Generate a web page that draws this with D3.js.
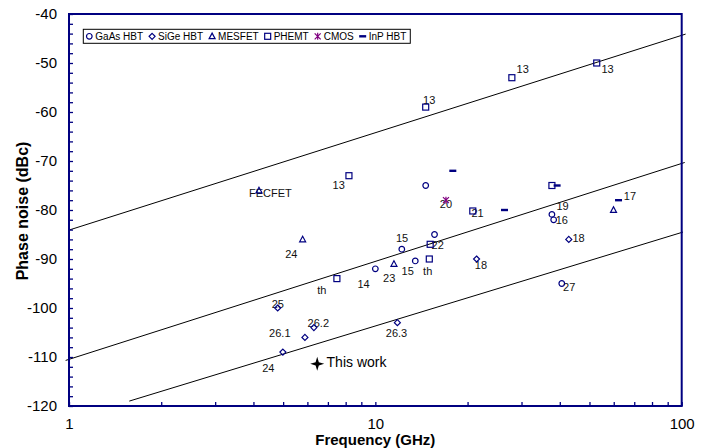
<!doctype html>
<html lang="en">
<head>
<meta charset="utf-8">
<script src="https://d3js.org/d3.v7.min.js"></script>
<style>
  body { margin: 0; background: #fff; }
  svg text { font-family: "Liberation Sans", Arial, sans-serif; }
</style>
</head>
<body>
<div id="chart"></div>
<script>
// data: [frequency GHz, phase noise dBc]
var gaasHBT = [[14.6,-75],[15.6,-85],[12.2,-88],[13.5,-90.4],[10.0,-92],[37.7,-80.9],[38.2,-82],[40.6,-95]];
var sigeHBT = [[4.8,-100],[5.89,-106],[6.3,-104],[4.99,-109],[11.8,-103],[21.4,-90],[42.8,-86]];
var mesfet  = [[4.17,-76],[5.79,-86],[11.5,-91],[59.9,-80]];
var phemt   = [[27.9,-53],[52.8,-50],[14.6,-59],[8.2,-73],[7.49,-94],[15.0,-90],[15.1,-87],[20.8,-80.2],[37.7,-75]];
var cmos    = [[17.0,-78]];
var inpHBT  = [[17.9,-72],[26.4,-80],[39.2,-75],[62.2,-78]];
var thisWork = [[6.46,-111.4]];

// reference lines (end points)
var trendLines = [
  [[1,-84.1],[103,-44.1]],
  [[0.975,-110.7],[102.3,-70.3]],
  [[1.573,-119],[101,-84.5]]
];

// point annotations [freq, dBc, text]
var pointLabels = [
  [14.32,-58.4,"13"],[28.9,-52.1,"13"],[54.7,-52.1,"13"],[7.25,-75.7,"13"],
  [3.87,-77.35,"FECFET"],[5.08,-89.8,"24"],[16.23,-79.5,"20"],[20.6,-81.4,"21"],
  [11.67,-86.5,"15"],[15.26,-88.0,"22"],[12.18,-93.3,"15"],[14.32,-93.3,"th"],
  [21.12,-92.1,"18"],[10.6,-94.7,"23"],[8.74,-96.0,"14"],[6.46,-97.1,"th"],
  [4.59,-100.1,"25"],[6.01,-103.8,"26.2"],[4.50,-105.9,"26.1"],[4.27,-113.0,"24"],
  [10.82,-105.9,"26.3"],[41.0,-96.5,"27"],[39.0,-79.9,"19"],[38.8,-82.9,"16"],
  [44.0,-86.6,"18"],[64.7,-78.0,"17"]
];
var thisWorkLabel = [6.93,-112.1,"This work"];

var legendNames = ["GaAs HBT","SiGe HBT","MESFET","PHEMT","CMOS","InP HBT"];
var xTicks = [1,2,3,4,5,6,7,8,9,10,20,30,40,50,60,70,80,90,100];
var xTickLabels = [1,10,100];
var yTicks = d3.range(-120,-39,2);

var W = 709, H = 448;
var navy = "#000080", purple = "#800080";

var x = d3.scaleLog().domain([1,100]).range([69,681.7]);
var y = d3.scaleLinear().domain([-120,-40]).range([406,14]);

var svg = d3.select("#chart").append("svg")
  .attr("width", W).attr("height", H);

// marker drawing
function drawMarker(g, type, color) {
  if (type == "circle") {
    g.append("circle").attr("r",2.8).attr("fill","none").attr("stroke",color).attr("stroke-width",1.2);
  } else if (type == "diamond") {
    g.append("path").attr("d","M0,-3L3,0L0,3L-3,0Z").attr("fill","none").attr("stroke",color).attr("stroke-width",1.2);
  } else if (type == "triangle") {
    g.append("path").attr("d","M0,-3.2L3,2.4L-3,2.4Z").attr("fill","none").attr("stroke",color).attr("stroke-width",1.2);
  } else if (type == "square") {
    g.append("rect").attr("x",-3).attr("y",-3).attr("width",6).attr("height",6).attr("fill","none").attr("stroke",color).attr("stroke-width",1.2);
  } else if (type == "star") {
    g.append("path").attr("d","M-3,-3L3,3M3,-3L-3,3M0,-3.5L0,3.5").attr("stroke",color).attr("stroke-width",1.2);
  } else if (type == "dash") {
    g.append("rect").attr("x",-3.5).attr("y",-1.2).attr("width",7).attr("height",2.4).attr("fill",color);
  }
}

var series = [
  {data: gaasHBT, type: "circle", color: navy},
  {data: sigeHBT, type: "diamond", color: navy},
  {data: mesfet, type: "triangle", color: navy},
  {data: phemt, type: "square", color: navy},
  {data: cmos, type: "star", color: purple},
  {data: inpHBT, type: "dash", color: navy}
];

// trend lines
var line = d3.line().x(function(d){ return x(d[0]); }).y(function(d){ return y(d[1]); });
svg.append("g").selectAll("path").data(trendLines).enter().append("path")
  .attr("d", line).attr("fill","none").attr("stroke","#000").attr("stroke-width",1);

// labels
svg.append("g").selectAll("text").data(pointLabels).enter().append("text")
  .attr("x", function(d){ return x(d[0]); })
  .attr("y", function(d){ return y(d[1]); })
  .style("font-size","11px").attr("fill","#111")
  .text(function(d){ return d[2]; });

// markers
series.forEach(function(s) {
  s.data.forEach(function(d) {
    var g = svg.append("g").attr("transform","translate(" + x(d[0]) + "," + y(d[1]) + ")");
    drawMarker(g, s.type, s.color);
  });
});

// this work
svg.append("g").selectAll("path").data(thisWork).enter().append("path")
  .attr("transform", function(d){ return "translate(" + x(d[0]) + "," + y(d[1]) + ")"; })
  .attr("d","M0,-7L1.6,-1.6L7,0L1.6,1.6L0,7L-1.6,1.6L-7,0L-1.6,-1.6Z")
  .attr("fill","#000");
svg.append("text")
  .attr("x", x(thisWorkLabel[0])).attr("y", y(thisWorkLabel[1]))
  .style("font-size","14px").attr("fill","#000").text(thisWorkLabel[2]);

// axes
var yAxis = d3.axisLeft(y).tickValues(yTicks).tickSize(-4).tickPadding(12)
  .tickFormat(function(d){ return d % 10 == 0 ? d : ""; });
var gy = svg.append("g").attr("transform","translate(69,0)").call(yAxis);
gy.select(".domain").remove();
gy.selectAll("line").attr("stroke",navy).attr("stroke-width",1.3);
gy.selectAll("text").style("font-size","15px").attr("fill","#000")
  .style("font-family","'Liberation Sans', Arial, sans-serif");

var xAxis = d3.axisBottom(x).tickValues(xTicks).tickSize(-4).tickPadding(12)
  .tickFormat(function(d){ return xTickLabels.indexOf(d) >= 0 ? d : ""; });
var gx = svg.append("g").attr("transform","translate(0,406)").call(xAxis);
gx.select(".domain").remove();
gx.selectAll("line").attr("stroke",navy).attr("stroke-width",1.3);
gx.selectAll("text").style("font-size","15px").attr("fill","#000")
  .style("font-family","'Liberation Sans', Arial, sans-serif");

// plot frame
svg.append("rect").attr("x",69).attr("y",14).attr("width",612.7).attr("height",392)
  .attr("fill","none").attr("stroke",navy).attr("stroke-width",2);

// axis titles
svg.append("text").attr("x",375.3).attr("y",444.5).attr("text-anchor","middle")
  .style("font-size","15px").style("font-weight","bold").text("Frequency (GHz)");
svg.append("text").attr("transform","translate(28,211) rotate(-90)").attr("text-anchor","middle")
  .style("font-size","16px").style("font-weight","bold").text("Phase noise (dBc)");

// legend
var legend = svg.append("g");
var box = legend.append("rect").attr("x",83.3).attr("y",29.3).attr("height",14)
  .attr("fill","#fff").attr("stroke","#000").attr("stroke-width",1);
var cx = 89.3;
legendNames.forEach(function(name, i) {
  var g = legend.append("g").attr("transform","translate(" + cx + ",36.3)");
  drawMarker(g, series[i].type, series[i].color);
  var t = legend.append("text").attr("x", cx + 6).attr("y", 40.2)
    .style("font-size","10px").attr("fill","#000").text(name);
  cx = cx + 6 + t.node().getComputedTextLength() + 9;
});
box.attr("width", cx - 9 + 4 - 83.3);
</script>
</body>
</html>
